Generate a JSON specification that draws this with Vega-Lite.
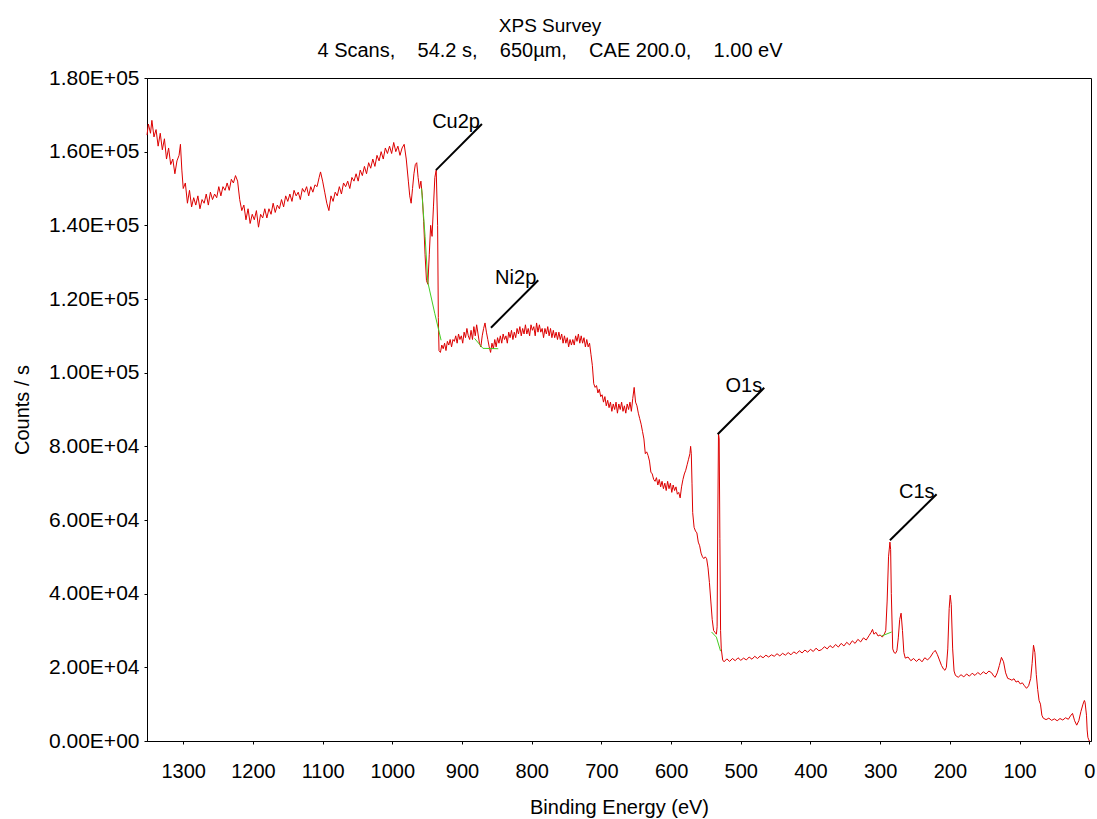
{
"$schema": "https://vega.github.io/schema/vega-lite/v6.json",
"width": 944, "height": 663,
"autosize": {"type": "none"},
"padding": {"left": 147, "top": 78, "right": 6, "bottom": 78},
"background": "white",
"config": {"view": {"stroke": "black", "strokeWidth": 1}, "font": "Liberation Sans"},
"title": {"text": "XPS Survey", "subtitle": "4 Scans, \u00a0\u00a0\u00a054.2 s, \u00a0\u00a0\u00a0650µm, \u00a0\u00a0\u00a0CAE 200.0, \u00a0\u00a0\u00a01.00 eV", "anchor": "middle", "dx": -69, "fontSize": 19, "fontWeight": "normal", "subtitleFontSize": 20, "color": "black", "subtitleColor": "black", "subtitlePadding": 5, "offset": 6, "font": "Liberation Sans", "subtitleFont": "Liberation Sans"},
"datasets": {
"spec": [
{"e":1352,"c":164500},{"e":1350,"c":167500},{"e":1347,"c":165000},{"e":1345,"c":168500},{"e":1342,"c":164000},{"e":1339,"c":166000},{"e":1336,"c":161500},{"e":1333,"c":165000},{"e":1330,"c":160500},{"e":1327,"c":163500},{"e":1324,"c":158000},{"e":1321,"c":161000},{"e":1318,"c":156500},{"e":1315,"c":158000},{"e":1312,"c":154000},{"e":1309,"c":157500},{"e":1306,"c":159000},{"e":1304,"c":162000},{"e":1302,"c":155000},{"e":1300,"c":150000},{"e":1297,"c":151500},{"e":1294,"c":146000},{"e":1291,"c":149500},{"e":1288,"c":145000},{"e":1285,"c":147500},{"e":1282,"c":145500},{"e":1279,"c":148000},{"e":1276,"c":144500},{"e":1273,"c":147000},{"e":1270,"c":146000},{"e":1267,"c":148500},{"e":1264,"c":145500},{"e":1261,"c":149000},{"e":1258,"c":147000},{"e":1255,"c":148500},{"e":1252,"c":147500},{"e":1249,"c":150500},{"e":1246,"c":148000},{"e":1243,"c":150500},{"e":1240,"c":149500},{"e":1237,"c":151500},{"e":1234,"c":149500},{"e":1231,"c":152500},{"e":1228,"c":151500},{"e":1225,"c":153500},{"e":1222,"c":152000},{"e":1219,"c":147000},{"e":1216,"c":144000},{"e":1213,"c":145500},{"e":1210,"c":141500},{"e":1207,"c":144500},{"e":1204,"c":140500},{"e":1201,"c":143000},{"e":1198,"c":141500},{"e":1195,"c":144000},{"e":1192,"c":139500},{"e":1189,"c":143000},{"e":1186,"c":142000},{"e":1183,"c":144500},{"e":1180,"c":142000},{"e":1177,"c":144500},{"e":1174,"c":143000},{"e":1171,"c":146000},{"e":1168,"c":143500},{"e":1165,"c":145500},{"e":1162,"c":144500},{"e":1159,"c":147000},{"e":1156,"c":145000},{"e":1153,"c":148000},{"e":1150,"c":146500},{"e":1147,"c":148500},{"e":1144,"c":146500},{"e":1141,"c":149500},{"e":1138,"c":148000},{"e":1135,"c":149000},{"e":1132,"c":147000},{"e":1129,"c":150000},{"e":1126,"c":149000},{"e":1123,"c":150500},{"e":1120,"c":148000},{"e":1117,"c":150500},{"e":1114,"c":149000},{"e":1111,"c":151000},{"e":1108,"c":150500},{"e":1105,"c":153000},{"e":1103,"c":154500},{"e":1100,"c":152000},{"e":1097,"c":149000},{"e":1094,"c":146000},{"e":1091,"c":144000},{"e":1088,"c":148000},{"e":1085,"c":146500},{"e":1082,"c":149000},{"e":1079,"c":148000},{"e":1076,"c":150500},{"e":1073,"c":148500},{"e":1070,"c":151500},{"e":1067,"c":150500},{"e":1064,"c":152000},{"e":1061,"c":150000},{"e":1058,"c":153000},{"e":1055,"c":152000},{"e":1052,"c":154000},{"e":1049,"c":152000},{"e":1046,"c":155000},{"e":1043,"c":153500},{"e":1040,"c":156000},{"e":1037,"c":154000},{"e":1034,"c":157000},{"e":1031,"c":155500},{"e":1028,"c":158000},{"e":1025,"c":156000},{"e":1022,"c":159000},{"e":1019,"c":157500},{"e":1016,"c":160000},{"e":1013,"c":158000},{"e":1010,"c":161000},{"e":1007,"c":159500},{"e":1004,"c":161500},{"e":1001,"c":159500},{"e":998,"c":162500},{"e":995,"c":160000},{"e":992,"c":161500},{"e":989,"c":159000},{"e":986,"c":161000},{"e":983,"c":162000},{"e":980,"c":158000},{"e":977,"c":152000},{"e":975,"c":148000},{"e":973,"c":146000},{"e":971,"c":150000},{"e":969,"c":154000},{"e":967,"c":156500},{"e":965,"c":157000},{"e":963,"c":153000},{"e":961,"c":150000},{"e":959,"c":152000},{"e":957,"c":148000},{"e":955,"c":141000},{"e":953,"c":132000},{"e":951,"c":125000},{"e":949,"c":124000},{"e":947,"c":132000},{"e":945,"c":140000},{"e":943,"c":137000},{"e":941,"c":145000},{"e":939,"c":153000},{"e":937,"c":155000},{"e":935,"c":140000},{"e":934,"c":115000},{"e":933,"c":106000},{"e":931,"c":105500},{"e":929,"c":107500},{"e":927,"c":106500},{"e":925,"c":108000},{"e":923,"c":106000},{"e":921,"c":108500},{"e":919,"c":107500},{"e":917,"c":109000},{"e":915,"c":107000},{"e":913,"c":109000},{"e":911,"c":108500},{"e":909,"c":110000},{"e":907,"c":108000},{"e":905,"c":110500},{"e":903,"c":109000},{"e":901,"c":110000},{"e":899,"c":108000},{"e":897,"c":111000},{"e":895,"c":109500},{"e":893,"c":112000},{"e":891,"c":110000},{"e":889,"c":109000},{"e":887,"c":111500},{"e":885,"c":109000},{"e":883,"c":112500},{"e":881,"c":110000},{"e":879,"c":113000},{"e":877,"c":110500},{"e":875,"c":108000},{"e":873,"c":107000},{"e":871,"c":110000},{"e":869,"c":112000},{"e":867,"c":113500},{"e":865,"c":111000},{"e":863,"c":109000},{"e":861,"c":107000},{"e":859,"c":105500},{"e":857,"c":108000},{"e":855,"c":106500},{"e":853,"c":109000},{"e":851,"c":107000},{"e":849,"c":109500},{"e":847,"c":108000},{"e":845,"c":110000},{"e":843,"c":108000},{"e":841,"c":110500},{"e":839,"c":109000},{"e":837,"c":110000},{"e":835,"c":108000},{"e":833,"c":111000},{"e":831,"c":109500},{"e":829,"c":111500},{"e":827,"c":109000},{"e":825,"c":111000},{"e":823,"c":109500},{"e":821,"c":112000},{"e":819,"c":110500},{"e":817,"c":112500},{"e":815,"c":110000},{"e":813,"c":112000},{"e":811,"c":110500},{"e":809,"c":113000},{"e":807,"c":110500},{"e":805,"c":112000},{"e":803,"c":110000},{"e":801,"c":113000},{"e":799,"c":111500},{"e":797,"c":112500},{"e":795,"c":110000},{"e":793,"c":113500},{"e":791,"c":111000},{"e":789,"c":113000},{"e":787,"c":111000},{"e":785,"c":112000},{"e":783,"c":109500},{"e":781,"c":112000},{"e":779,"c":110500},{"e":777,"c":112500},{"e":775,"c":110000},{"e":773,"c":112000},{"e":771,"c":109500},{"e":769,"c":111500},{"e":767,"c":109500},{"e":765,"c":111000},{"e":763,"c":109000},{"e":761,"c":111000},{"e":759,"c":109000},{"e":757,"c":110500},{"e":755,"c":108000},{"e":753,"c":110000},{"e":751,"c":108000},{"e":749,"c":109500},{"e":747,"c":107000},{"e":745,"c":109000},{"e":743,"c":107500},{"e":741,"c":109000},{"e":739,"c":107500},{"e":737,"c":110000},{"e":735,"c":108500},{"e":733,"c":110500},{"e":731,"c":108000},{"e":729,"c":110000},{"e":727,"c":108000},{"e":725,"c":109500},{"e":723,"c":107000},{"e":721,"c":109000},{"e":719,"c":107000},{"e":717,"c":108000},{"e":715,"c":105000},{"e":713,"c":102000},{"e":711,"c":97000},{"e":709,"c":96000},{"e":707,"c":96500},{"e":705,"c":94500},{"e":703,"c":95500},{"e":701,"c":93500},{"e":699,"c":94000},{"e":697,"c":92000},{"e":695,"c":93500},{"e":693,"c":91000},{"e":691,"c":92500},{"e":689,"c":90500},{"e":687,"c":92000},{"e":685,"c":89500},{"e":683,"c":91500},{"e":681,"c":90000},{"e":679,"c":92000},{"e":677,"c":89000},{"e":675,"c":91500},{"e":673,"c":90000},{"e":671,"c":92000},{"e":669,"c":89500},{"e":667,"c":91000},{"e":665,"c":89000},{"e":663,"c":91500},{"e":661,"c":90000},{"e":659,"c":92000},{"e":657,"c":89500},{"e":655,"c":93000},{"e":653,"c":96000},{"e":651,"c":92000},{"e":649,"c":91000},{"e":647,"c":89000},{"e":645,"c":87500},{"e":643,"c":86000},{"e":641,"c":84000},{"e":639,"c":82000},{"e":637,"c":78000},{"e":635,"c":78500},{"e":633,"c":77500},{"e":631,"c":76000},{"e":629,"c":73000},{"e":627,"c":72500},{"e":625,"c":71000},{"e":623,"c":70500},{"e":621,"c":71500},{"e":619,"c":69500},{"e":617,"c":71000},{"e":615,"c":69000},{"e":613,"c":70500},{"e":611,"c":68500},{"e":609,"c":70000},{"e":607,"c":68000},{"e":605,"c":70500},{"e":603,"c":68500},{"e":601,"c":70000},{"e":599,"c":67500},{"e":597,"c":69500},{"e":595,"c":68000},{"e":593,"c":69000},{"e":591,"c":67000},{"e":589,"c":67500},{"e":587,"c":66000},{"e":585,"c":69000},{"e":583,"c":71000},{"e":581,"c":72500},{"e":579,"c":73500},{"e":577,"c":75000},{"e":575,"c":76500},{"e":573,"c":78000},{"e":572,"c":80000},{"e":571,"c":78000},{"e":570,"c":70000},{"e":569,"c":62000},{"e":567,"c":58000},{"e":565,"c":57000},{"e":563,"c":56500},{"e":561,"c":54000},{"e":559,"c":53000},{"e":557,"c":51000},{"e":555,"c":50000},{"e":553,"c":49500},{"e":551,"c":50000},{"e":549,"c":49500},{"e":547,"c":47000},{"e":545,"c":43000},{"e":543,"c":38000},{"e":541,"c":33000},{"e":539,"c":30000},{"e":537,"c":29500},{"e":535,"c":29000},{"e":534,"c":31000},{"e":533,"c":60000},{"e":532,"c":83500},{"e":531,"c":82000},{"e":530,"c":55000},{"e":529,"c":30000},{"e":528,"c":25000},{"e":526,"c":22000},{"e":524,"c":21500},{"e":520,"c":22300},{"e":516,"c":21600},{"e":512,"c":22400},{"e":508,"c":21800},{"e":504,"c":22600},{"e":500,"c":21900},{"e":496,"c":22500},{"e":492,"c":22000},{"e":488,"c":22800},{"e":484,"c":22200},{"e":480,"c":23000},{"e":476,"c":22400},{"e":472,"c":23100},{"e":468,"c":22600},{"e":464,"c":23300},{"e":460,"c":22800},{"e":456,"c":23400},{"e":452,"c":23000},{"e":448,"c":23700},{"e":444,"c":23100},{"e":440,"c":23800},{"e":436,"c":23300},{"e":432,"c":24000},{"e":428,"c":23400},{"e":424,"c":24200},{"e":420,"c":23700},{"e":416,"c":24500},{"e":412,"c":23900},{"e":408,"c":24700},{"e":404,"c":24100},{"e":400,"c":24900},{"e":396,"c":24300},{"e":392,"c":25200},{"e":388,"c":24500},{"e":384,"c":24800},{"e":380,"c":25600},{"e":376,"c":25000},{"e":372,"c":25900},{"e":368,"c":25300},{"e":364,"c":26200},{"e":360,"c":25500},{"e":356,"c":26500},{"e":352,"c":25800},{"e":348,"c":26800},{"e":344,"c":26100},{"e":340,"c":27200},{"e":336,"c":26500},{"e":332,"c":27600},{"e":328,"c":26900},{"e":324,"c":28000},{"e":320,"c":27400},{"e":316,"c":28600},{"e":313,"c":29500},{"e":311,"c":30300},{"e":309,"c":29000},{"e":306,"c":29500},{"e":303,"c":28500},{"e":300,"c":28800},{"e":297,"c":28200},{"e":294,"c":29000},{"e":292,"c":30000},{"e":290,"c":38000},{"e":288,"c":50000},{"e":286,"c":54000},{"e":285,"c":52000},{"e":284,"c":40000},{"e":282,"c":25000},{"e":280,"c":24000},{"e":278,"c":23800},{"e":276,"c":24500},{"e":274,"c":28000},{"e":272,"c":33000},{"e":270,"c":34700},{"e":268,"c":30000},{"e":266,"c":24000},{"e":264,"c":22500},{"e":260,"c":22800},{"e":256,"c":21800},{"e":252,"c":22400},{"e":248,"c":21600},{"e":244,"c":22300},{"e":240,"c":21500},{"e":236,"c":22600},{"e":232,"c":22000},{"e":228,"c":22800},{"e":224,"c":24000},{"e":221,"c":24600},{"e":218,"c":23500},{"e":215,"c":22000},{"e":212,"c":20500},{"e":209,"c":19500},{"e":207,"c":19200},{"e":205,"c":20000},{"e":203,"c":25000},{"e":201,"c":36000},{"e":199.5,"c":39600},{"e":198,"c":37000},{"e":196,"c":25000},{"e":194,"c":19000},{"e":192,"c":17800},{"e":188,"c":17300},{"e":184,"c":18000},{"e":180,"c":17400},{"e":176,"c":18200},{"e":172,"c":17600},{"e":168,"c":18400},{"e":164,"c":17800},{"e":160,"c":18600},{"e":156,"c":18000},{"e":152,"c":18800},{"e":148,"c":18200},{"e":144,"c":19000},{"e":140,"c":18500},{"e":137,"c":17600},{"e":135,"c":17300},{"e":132,"c":18500},{"e":129,"c":20500},{"e":126,"c":22700},{"e":123,"c":21500},{"e":120,"c":18500},{"e":117,"c":17000},{"e":114,"c":16800},{"e":111,"c":16500},{"e":108,"c":16900},{"e":105,"c":16000},{"e":102,"c":16300},{"e":99,"c":15500},{"e":96,"c":15800},{"e":93,"c":15000},{"e":90,"c":14300},{"e":87,"c":15000},{"e":84,"c":17000},{"e":82,"c":21000},{"e":80,"c":26000},{"e":78,"c":24000},{"e":76,"c":18000},{"e":74,"c":14000},{"e":72,"c":11000},{"e":70,"c":10000},{"e":68,"c":7000},{"e":66,"c":6200},{"e":62,"c":5800},{"e":58,"c":6200},{"e":54,"c":5600},{"e":50,"c":6000},{"e":46,"c":5500},{"e":42,"c":6100},{"e":38,"c":5700},{"e":34,"c":6300},{"e":30,"c":5900},{"e":27,"c":6800},{"e":24,"c":7500},{"e":21,"c":5500},{"e":18,"c":4300},{"e":15,"c":5500},{"e":12,"c":8000},{"e":9,"c":10000},{"e":7,"c":11000},{"e":6,"c":10500},{"e":4,"c":7000},{"e":3,"c":3000},{"e":2,"c":1000},{"e":1,"c":500},{"e":0,"c":0},{"e":-1,"c":0}
],
"bg": [
{"g":"Cu","e":958,"c":150000},{"g":"Cu","e":953,"c":137000},{"g":"Cu","e":949,"c":124500},{"g":"Cu","e":939,"c":116000},{"g":"Cu","e":930,"c":108800},
{"g":"Ni","e":882,"c":109300},{"g":"Ni","e":870,"c":106600},{"g":"Ni","e":848,"c":106500},
{"g":"O","e":542,"c":29600},{"g":"O","e":535,"c":28200},{"g":"O","e":529,"c":24400},
{"g":"C","e":298,"c":28500},{"g":"C","e":283.5,"c":29600}
],
"ann": [
{"t":"Cu2p","e":937.4,"c":155000,"e2":871.4,"c2":167500},
{"t":"Ni2p","e":858.5,"c":112200,"e2":790.6,"c2":125100},
{"t":"O1s","e":533.2,"c":83300,"e2":466.4,"c2":95900},
{"t":"C1s","e":286,"c":54500,"e2":219,"c2":67000}
]
},
"layer": [
{
"data": {"name": "spec"},
"mark": {"type": "line", "color": "#dd0000", "strokeWidth": 1, "interpolate": "linear"},
"encoding": {
"x": {"field": "e", "type": "quantitative", "scale": {"domain": [-2.5, 1352], "reverse": true, "nice": false, "zero": false},
"axis": {"title": "Binding Energy (eV)", "values": [0,50,100,150,200,250,300,350,400,450,500,550,600,650,700,750,800,850,900,950,1000,1050,1100,1150,1200,1250,1300,1350], "format": "d", "labelExpr": "datum.value % 100 == 0 ? datum.label : ''", "grid": false, "tickSize": 3, "tickColor": "black", "domainColor": "black", "labelColor": "black", "titleColor": "black", "labelFontSize": 20, "labelFont": "Liberation Sans", "labelBaseline": "alphabetic", "labelPadding": 33, "labelFlush": false, "labelOverlap": false, "titleFontSize": 20, "titleFont": "Liberation Sans", "titleFontWeight": "normal", "titleX": 472, "titleY": 72, "titleBaseline": "alphabetic", "titleAlign": "center"}},
"y": {"field": "c", "type": "quantitative", "scale": {"domain": [0, 180000], "nice": false, "zero": false},
"axis": {"title": "Counts / s", "values": [0,10000,20000,30000,40000,50000,60000,70000,80000,90000,100000,110000,120000,130000,140000,150000,160000,170000,180000], "labelExpr": "datum.value % 20000 != 0 ? '' : datum.value == 0 ? '0.00E+00' : datum.value < 100000 ? format(datum.value / 10000, '.2f') + 'E+04' : format(datum.value / 100000, '.2f') + 'E+05'", "grid": false, "tickSize": 3, "tickColor": "black", "domainColor": "black", "labelColor": "black", "titleColor": "black", "labelFontSize": 21, "labelFont": "Liberation Sans", "labelPadding": 5, "labelFlush": false, "labelOverlap": false, "titleFontSize": 20, "titleFont": "Liberation Sans", "titleFontWeight": "normal", "titleX": -125, "titleY": 331.5, "titleBaseline": "middle", "titleAlign": "center", "titleAngle": 270}}
}
},
{
"data": {"name": "bg"},
"mark": {"type": "line", "color": "#44cc22", "strokeWidth": 1},
"encoding": {
"x": {"field": "e", "type": "quantitative", "scale": {"domain": [-2.5, 1352], "reverse": true, "nice": false, "zero": false}},
"y": {"field": "c", "type": "quantitative", "scale": {"domain": [0, 180000], "nice": false, "zero": false}},
"detail": {"field": "g"}
}
},
{
"data": {"name": "ann"},
"mark": {"type": "rule", "color": "black", "strokeWidth": 2},
"encoding": {
"x": {"field": "e", "type": "quantitative", "scale": {"domain": [-2.5, 1352], "reverse": true, "nice": false, "zero": false}},
"y": {"field": "c", "type": "quantitative", "scale": {"domain": [0, 180000], "nice": false, "zero": false}},
"x2": {"field": "e2"},
"y2": {"field": "c2"}
}
},
{
"data": {"name": "ann"},
"mark": {"type": "text", "align": "right", "baseline": "middle", "dx": -2, "dy": -2, "fontSize": 20, "font": "Liberation Sans", "color": "black"},
"encoding": {
"x": {"field": "e2", "type": "quantitative", "scale": {"domain": [-2.5, 1352], "reverse": true, "nice": false, "zero": false}},
"y": {"field": "c2", "type": "quantitative", "scale": {"domain": [0, 180000], "nice": false, "zero": false}},
"text": {"field": "t"}
}
}
]
}
